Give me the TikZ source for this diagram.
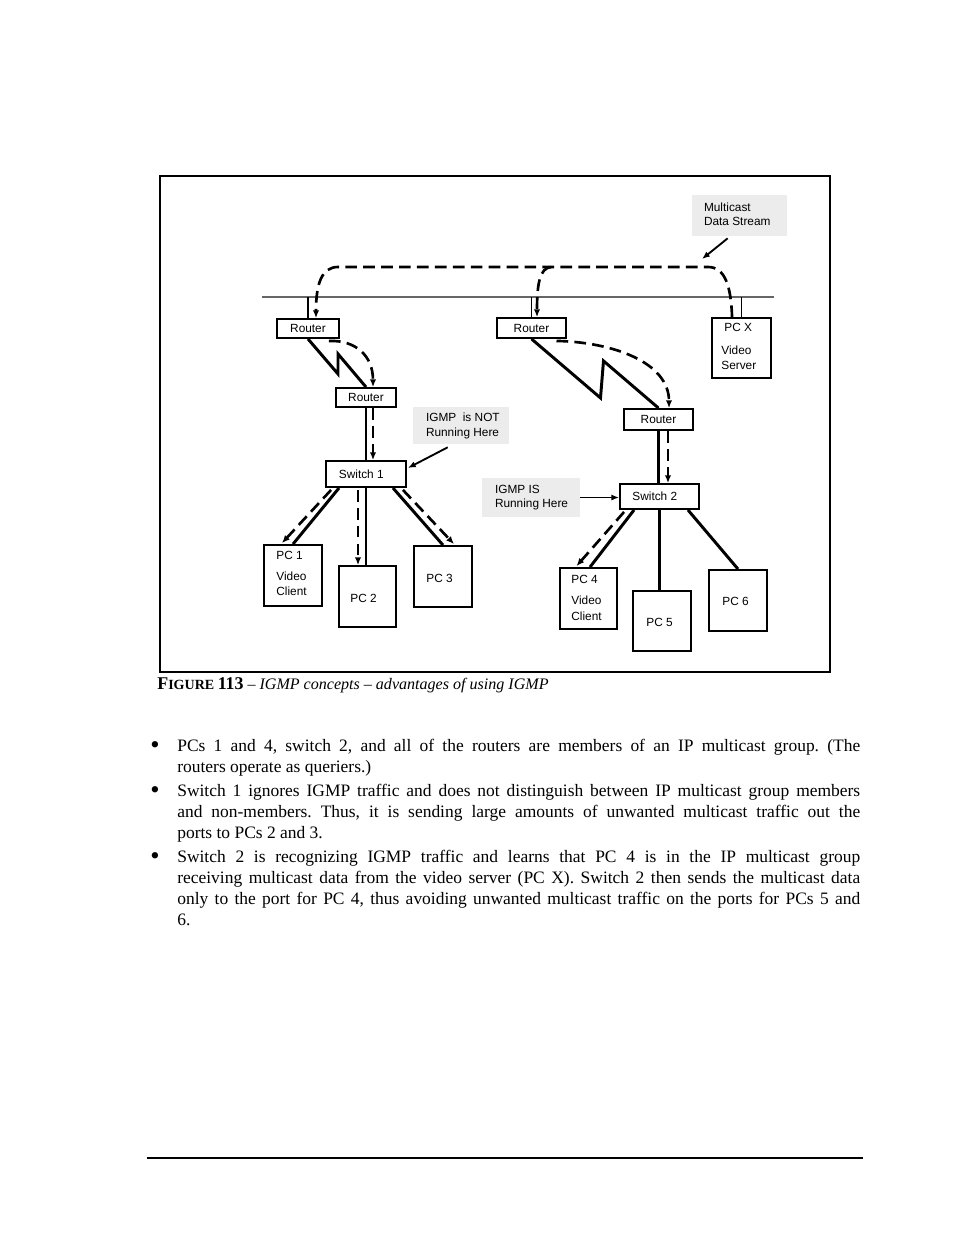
\documentclass[tikz,border=0pt]{standalone}
\usepackage{fontspec}
\setmainfont{Liberation Serif}
\newfontfamily\diagfont{Liberation Sans}
\usetikzlibrary{arrows.meta,calc}
\newcommand\dgfont{\diagfont\fontsize{7.6}{9.4}\selectfont}
\newcommand\bodyfont{\fontsize{11.2}{13}\selectfont}
\newcommand\jline[1]{\makebox[438.1pt][s]{#1}}
\frenchspacing
\begin{document}
\begin{tikzpicture}[x=0.6415pt,y=-0.6415pt,
  wh/.style 2 args={minimum width=#1*0.6415pt,minimum height=#2*0.6415pt},
  devbox/.style={draw,line width=1.2pt,inner sep=0pt,font=\dgfont},
  notebox/.style={fill=gray!15,inner sep=0pt},
  dtext/.style={inner sep=0pt,font=\dgfont,align=left},
  link/.style={line width=1.9pt,line join=miter},
  dashlink/.style={line width=1.7pt,dash pattern=on 7.5pt off 4pt},
  tip/.style={-{Latex[length=5pt,width=4.2pt]}},
  busline/.style={line width=1.2pt,draw=black!60},
  drop/.style={line width=1.2pt},
  callout/.style={line width=1.2pt,-{Latex[length=5pt,width=4pt]}},
  bodyline/.style={anchor=base west,inner sep=0pt,font=\bodyfont},
  bul/.style={anchor=base,inner sep=0pt,font=\fontsize{17}{17}\selectfont}]
\useasboundingbox (0,0) rectangle (954,1235);
\fill[white] (0,0) rectangle (954,1235);
% frame
\coordinate (frTL) at (160,176);
\coordinate (frBR) at (830,672);
\draw[line width=0.8pt] (frTL) rectangle (frBR);
% bus
\coordinate (busL) at (262,297);
\coordinate (busR) at (774,297);
\draw[busline] (busL) -- (busR);
% devices
\node[devbox,wh={62}{19}] (r1) at (308,328.5) {Router};
\node[devbox,wh={69}{20}] (r2) at (531.5,328) {Router};
\node[devbox,wh={59}{60}] (pcx) at (741.5,348) {};
\node[devbox,wh={60}{19}] (r3) at (366,397.5) {Router};
\node[devbox,wh={80}{26}] (sw1) at (366,474) {Switch 1\hspace*{6pt}};
\node[devbox,wh={69}{21}] (r4) at (658.5,419.5) {Router};
\node[devbox,wh={79}{25}] (sw2) at (659.5,496.5) {Switch 2\hspace*{6pt}};
\node[devbox,wh={58}{61}] (pc1) at (293,575.5) {};
\node[devbox,wh={57}{61}] (pc2) at (367.5,596.5) {};
\node[devbox,wh={58}{61}] (pc3) at (443,576.5) {};
\node[devbox,wh={57}{61}] (pc4) at (588.5,598.5) {};
\node[devbox,wh={58}{60}] (pc5) at (662,621) {};
\node[devbox,wh={58}{61}] (pc6) at (738,600.5) {};
% device texts
\node[dtext,anchor=west] (pcxa) at ($(pcx.north west)+(13,10)$) {PC X};
\node[dtext,anchor=west] (pcxb) at ($(pcx.north west)+(10,40.5)$) {Video\\Server};
\node[dtext,anchor=west] (pc1a) at ($(pc1.north west)+(13,11)$) {PC 1};
\node[dtext,anchor=west] (pc1b) at ($(pc1.north west)+(13,40)$) {Video\\Client};
\node[dtext,anchor=west] (pc4a) at ($(pc4.north west)+(12,12)$) {PC 4};
\node[dtext,anchor=west,font=\diagfont\fontsize{7.6}{10.3}\selectfont] (pc4b) at ($(pc4.north west)+(12,41)$) {Video\\Client};
\node[dtext,anchor=west] (pc2a) at ($(pc2.north west)+(12,33)$) {PC 2};
\node[dtext,anchor=west] (pc3a) at ($(pc3.north west)+(13,33)$) {PC 3};
\node[dtext,anchor=west] (pc5a) at ($(pc5.north west)+(14,32)$) {PC 5};
\node[dtext,anchor=west] (pc6a) at ($(pc6.north west)+(14,32)$) {PC 6};
% notes
\node[notebox,wh={95}{41}] (note3) at (739.5,215.5) {};
\node[notebox,wh={96}{37}] (note1) at (461,425.5) {};
\node[notebox,wh={98}{39}] (note2) at (531,497.5) {};
\node[dtext,anchor=west] (note3t) at ($(note3.north west)+(12,19.5)$) {Multicast\\Data Stream};
\node[dtext,anchor=west] (note1t) at ($(note1.north west)+(13,19)$) {IGMP\ \ is NOT\\Running Here};
\node[dtext,anchor=west] (note2t) at ($(note2.north west)+(13,20)$) {IGMP IS\\Running Here};
% drops from the bus
\draw[drop] (r1.north |- busL) -- (r1.north);
\draw[drop] (r2.north |- busL) -- (r2.north);
\draw[drop] (pcx.north |- busL) -- (pcx.north);
% multicast stream
\coordinate (streamR) at (708,267);
\coordinate (streamL) at (338,267);
\coordinate (branch) at (551,267);
\draw[dashlink,tip] ($(pcx.north west)+(21,0)$) .. controls (731,286) and (725,267) .. (streamR) -- (streamL) .. controls (322,267) and (316,283) .. ($(r1.north)+(8,0)$);
\draw[dashlink,tip] (branch) .. controls (540,268) and (537,283) .. ($(r2.north)+(5.5,0)$);
\coordinate (msTip) at (702,259);
\draw[callout] ($(note3.south west)+(36,2)$) -- (msTip);
% WAN zigzags
\draw[link] (r1.south) -- ++(30,35) -- ++(0,-20) -- (r3.north);
\draw[link] (r2.south) -- ++(69,59) -- ++(3,-37) -- (r4.north);
\draw[dashlink,tip] ($(r1.south east)+(-11,2)$) .. controls (356,340) and (373,356) .. ($(r3.north)+(7,0)$);
\draw[dashlink,tip] ($(r2.south)+(25,2)$) .. controls (612,342) and (669,362) .. ($(r4.north)+(10.5,0)$);
% router to switch
\draw[link] (r3.south) -- (sw1.north);
\draw[dashlink,tip] ($(r3.south)+(7,0)$) -- ($(sw1.north)+(7,0)$);
\draw[link] (r4.south) -- (r4.south |- sw2.north);
\draw[dashlink,tip] ($(r4.south)+(9.5,0)$) -- ($(r4.south |- sw2.north)+(9.5,0)$);
% callouts to switches
\draw[callout] ($(note1.south west)+(35,3)$) -- ($(sw1.east)+(1,-6)$);
\draw[callout] (note2.east) -- (note2.east -| sw2.west);
% switch 1 to PCs
\draw[link] ($(sw1.south west)+(14,0)$) -- (pc1.north);
\draw[dashlink,tip] ($(sw1.south west)+(6,2)$) -- ($(pc1.north)+(-11,-1)$);
\draw[link] (sw1.south) -- (sw1.south |- pc2.north);
\draw[dashlink,tip] ($(sw1.south)+(-8,2)$) -- ($(sw1.south |- pc2.north)+(-8,0)$);
\draw[link] ($(sw1.south east)+(-14,0)$) -- (pc3.north);
\draw[dashlink,tip] ($(sw1.south east)+(-4,2)$) -- ($(pc3.north)+(11,-1)$);
% switch 2 to PCs
\draw[link] ($(sw2.south west)+(15,0)$) -- ($(pc4.north)+(1.5,0)$);
\draw[dashlink,tip] ($(sw2.south west)+(5,2)$) -- ($(pc4.north)+(-12,-1)$);
\draw[link] (sw2.south) -- (sw2.south |- pc5.north);
\draw[link] ($(sw2.south east)+(-12,0)$) -- (pc6.north);
% caption
\node[anchor=base west,inner sep=0pt] (cap) at (157,689) {{\bfseries\fontsize{11.5}{13}\selectfont F\fontsize{9}{11}\selectfont IGURE \fontsize{11.5}{13}\selectfont 113} {\fontsize{10.3}{12}\selectfont – \itshape IGMP concepts – advantages of using IGMP}};
% body text
\node[bul] (b1) at (155,753) {\textbullet};
\node[bodyline] (l1) at (177,751) {\jline{PCs 1 and 4, switch 2, and all of the routers are members of an IP multicast group. (The}};
\node[bodyline] (l2) at (177,772) {routers operate as queriers.)};
\node[bul] (b2) at (155,798) {\textbullet};
\node[bodyline] (l3) at (177,796) {\jline{Switch 1 ignores IGMP traffic and does not distinguish between IP multicast group members}};
\node[bodyline] (l4) at (177,817) {\jline{and non-members. Thus, it is sending large amounts of unwanted multicast traffic out the}};
\node[bodyline] (l5) at (177,838) {ports to PCs 2 and 3.};
\node[bul] (b3) at (155,864) {\textbullet};
\node[bodyline] (l6) at (177,862) {\jline{Switch 2 is recognizing IGMP traffic and learns that PC 4 is in the IP multicast group}};
\node[bodyline] (l7) at (177,883) {\jline{receiving multicast data from the video server (PC X). Switch 2 then sends the multicast data}};
\node[bodyline] (l8) at (177,904) {\jline{only to the port for PC 4, thus avoiding unwanted multicast traffic on the ports for PCs 5 and}};
\node[bodyline] (l9) at (177,925) {6.};
% footer rule
\coordinate (fL) at (147,1158);
\coordinate (fR) at (863,1158);
\draw[line width=0.9pt] (fL) -- (fR);
\end{tikzpicture}
\end{document}
